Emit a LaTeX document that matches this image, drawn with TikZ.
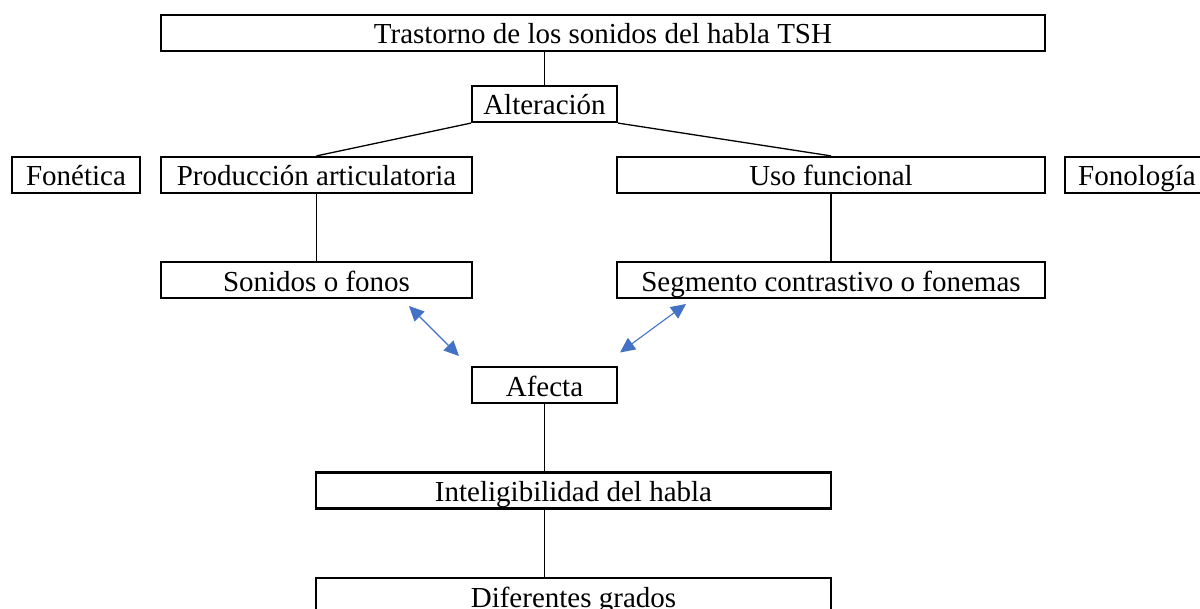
\documentclass[tikz,border=0pt]{standalone}
\usepackage{fontspec}
\setmainfont{Liberation Serif}
\usetikzlibrary{arrows.meta}
\definecolor{officeblue}{HTML}{4472C4}
\tikzset{
  box/.style={draw, line width=2.2bp, inner sep=0pt, minimum height=36bp,
    text height=24bp, text depth=2bp, align=center,
    font=\fontsize{29bp}{34bp}\selectfont},
  conn/.style={draw, line width=1.9bp},
  diag/.style={draw, line width=1.3bp},
  twoway/.style={draw=officeblue, line width=1.1bp,
    {Triangle[length=15bp,width=14bp,fill=officeblue]}-{Triangle[length=15bp,width=14bp,fill=officeblue]}}
}
\begin{document}
\begin{tikzpicture}[x=1bp,y=-1bp]
\useasboundingbox (0,0) rectangle (1200,609);
\fill[white] (0,0) rectangle (1200,609);
\clip (0,0) rectangle (1200,609);

\node[box, minimum width=884bp] (top) at (603,33) {Trastorno de los sonidos del habla TSH};
\node[box, minimum width=145bp] (alt) at (544.5,104) {Alteración};
\node[box, minimum width=128.6bp] (fon) at (76,175) {Fonética};
\node[box, minimum width=311bp] (prod) at (316.5,175) {Producción articulatoria};
\node[box, minimum width=428bp] (uso) at (831,175) {Uso funcional};
\node[box, minimum width=144bp] (fonol) at (1137,175) {Fonología};
\node[box, minimum width=311bp] (son) at (316.5,280) {Sonidos o fonos};
\node[box, minimum width=428bp] (seg) at (831,280) {Segmento contrastivo o fonemas};
\node[box, minimum width=145bp] (afe) at (544.5,385) {Afecta};
\node[box, minimum width=515bp] (int) at (573.5,490.5) {Inteligibilidad del habla};
\node[box, minimum width=515bp] (dif) at (573.5,596) {Diferentes grados};

\draw[conn] (alt.north) -- (alt.north |- top.south);
\draw[diag] (alt.south west) -- (prod.north);
\draw[diag] (alt.south east) -- (uso.north);
\draw[conn] (prod.south) -- (son.north);
\draw[conn] (uso.south) -- (seg.north);
\draw[conn] (afe.south) -- (afe.south |- int.north);
\draw[conn] (afe.south |- int.south) -- (afe.south |- dif.north);

\coordinate (a1) at (409,306);
\coordinate (a2) at (459,356);
\coordinate (b1) at (686,304);
\coordinate (b2) at (620,352.5);
\draw[twoway] (a1) -- (a2);
\draw[twoway] (b1) -- (b2);
\end{tikzpicture}
\end{document}
